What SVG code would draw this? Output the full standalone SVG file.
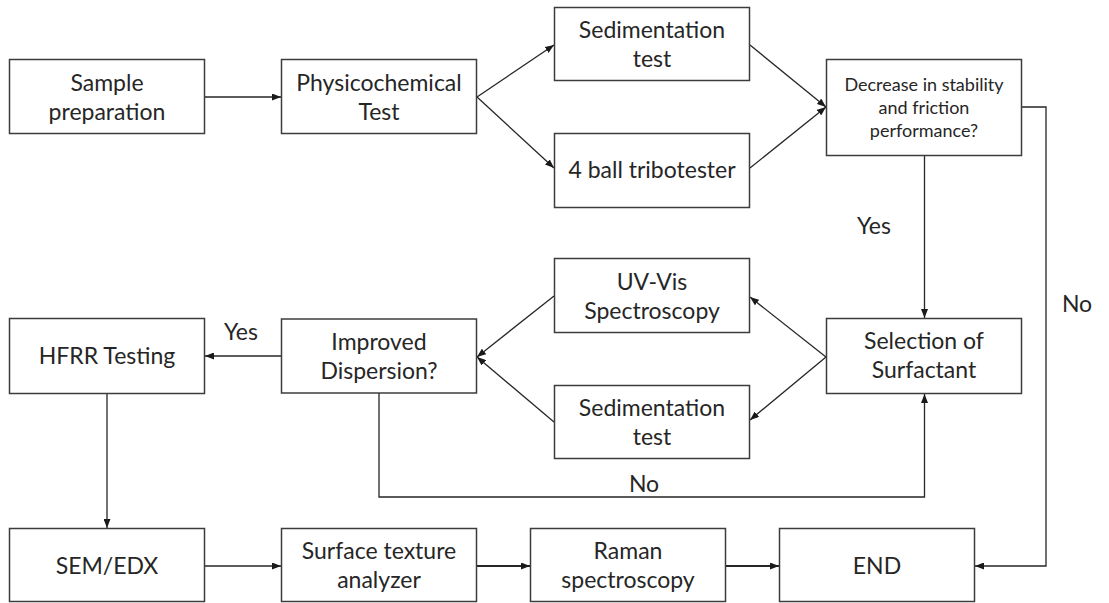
<svg xmlns="http://www.w3.org/2000/svg" width="1109" height="603" viewBox="0 0 1109 603">
<defs>
<marker id="arr" markerUnits="userSpaceOnUse" markerWidth="9" markerHeight="7" refX="9" refY="3.5" orient="auto">
<path d="M0,0 L9,3.5 L0,7 z" fill="#1a1a1a"/>
</marker>
</defs>
<style>
.box{fill:#fff;stroke:#3c3c3c;stroke-width:1.5}
.t{font-family:Lato,"Open Sans","Liberation Sans",sans-serif;font-size:23px;fill:#262626;text-anchor:middle}
.s{font-size:18px}
.c{fill:none;stroke:#262626;stroke-width:1.3;marker-end:url(#arr)}
.l{fill:none;stroke:#262626;stroke-width:1.3}
</style>
<rect width="1109" height="603" fill="#fff"/>
<g id="connectors">
<line class="c" x1="205" y1="97" x2="281" y2="97"/>
<line class="c" x1="477" y1="97" x2="554" y2="45"/>
<line class="c" x1="477" y1="97" x2="554" y2="168"/>
<line class="c" x1="750" y1="45" x2="826" y2="107"/>
<line class="c" x1="750" y1="168" x2="826" y2="107"/>
<line class="c" x1="924.5" y1="156" x2="924.5" y2="318"/>
<polyline class="c" points="1022,107 1046,107 1046,566 975,566"/>
<line class="c" x1="826" y1="357" x2="750" y2="297"/>
<line class="c" x1="826" y1="357" x2="750" y2="420"/>
<line class="c" x1="554" y1="296" x2="477" y2="357"/>
<line class="c" x1="554" y1="422" x2="477" y2="357"/>
<line class="c" x1="281" y1="356" x2="205" y2="356"/>
<polyline class="c" points="379,393 379,497 924.5,497 924.5,394"/>
<line class="c" x1="107" y1="393" x2="107" y2="528"/>
<line class="c" x1="205" y1="566" x2="281" y2="566"/>
<line class="c" x1="477" y1="566" x2="530" y2="566" style="stroke-width:1.8"/>
<line class="c" x1="726" y1="566" x2="779" y2="566" style="stroke-width:1.8"/>
<text class="t" x="874" y="234">Yes</text>
<text class="t" x="1077" y="312">No</text>
<text class="t" x="241" y="340">Yes</text>
<text class="t" x="644" y="492">No</text>
</g>
<g id="sample">
<rect class="box" x="9.5" y="59.5" width="195" height="74"/>
<text class="t" x="107" y="91">Sample</text>
<text class="t" x="107" y="120">preparation</text>
</g>
<g id="physico">
<rect class="box" x="281.5" y="59.5" width="195" height="74"/>
<text class="t" x="379" y="91">Physicochemical</text>
<text class="t" x="379" y="120">Test</text>
</g>
<g id="sed1">
<rect class="box" x="554.5" y="7.5" width="195" height="73"/>
<text class="t" x="652" y="38">Sedimentation</text>
<text class="t" x="652" y="67">test</text>
</g>
<g id="ball">
<rect class="box" x="554.5" y="133.5" width="195" height="74"/>
<text class="t" x="652" y="178">4 ball tribotester</text>
</g>
<g id="decision">
<rect class="box" x="826.5" y="59.5" width="195" height="96"/>
<text class="t s" x="924" y="91">Decrease in stability</text>
<text class="t s" x="924" y="114">and friction</text>
<text class="t s" x="924" y="137">performance?</text>
</g>
<g id="uvvis">
<rect class="box" x="554.5" y="258.5" width="195" height="74"/>
<text class="t" x="652" y="290">UV-Vis</text>
<text class="t" x="652" y="319">Spectroscopy</text>
</g>
<g id="sed2">
<rect class="box" x="554.5" y="385.5" width="195" height="73"/>
<text class="t" x="652" y="416">Sedimentation</text>
<text class="t" x="652" y="445">test</text>
</g>
<g id="selection">
<rect class="box" x="826.5" y="318.5" width="195" height="75"/>
<text class="t" x="924" y="349">Selection of</text>
<text class="t" x="924" y="378">Surfactant</text>
</g>
<g id="improved">
<rect class="box" x="281.5" y="319" width="195" height="74"/>
<text class="t" x="379" y="350">Improved</text>
<text class="t" x="379" y="379">Dispersion?</text>
</g>
<g id="hfrr">
<rect class="box" x="9.5" y="318.5" width="195" height="75"/>
<text class="t" x="107" y="364">HFRR Testing</text>
</g>
<g id="sem">
<rect class="box" x="9.5" y="528.5" width="195" height="73"/>
<text class="t" x="107" y="574">SEM/EDX</text>
</g>
<g id="surface">
<rect class="box" x="281.5" y="528.5" width="195" height="73"/>
<text class="t" x="379" y="559">Surface texture</text>
<text class="t" x="379" y="588">analyzer</text>
</g>
<g id="raman">
<rect class="box" x="530.5" y="528.5" width="195" height="73"/>
<text class="t" x="628" y="559">Raman</text>
<text class="t" x="628" y="588">spectroscopy</text>
</g>
<g id="end">
<rect class="box" x="779.5" y="528.5" width="195" height="73"/>
<text class="t" x="877" y="574">END</text>
</g>
</svg>
